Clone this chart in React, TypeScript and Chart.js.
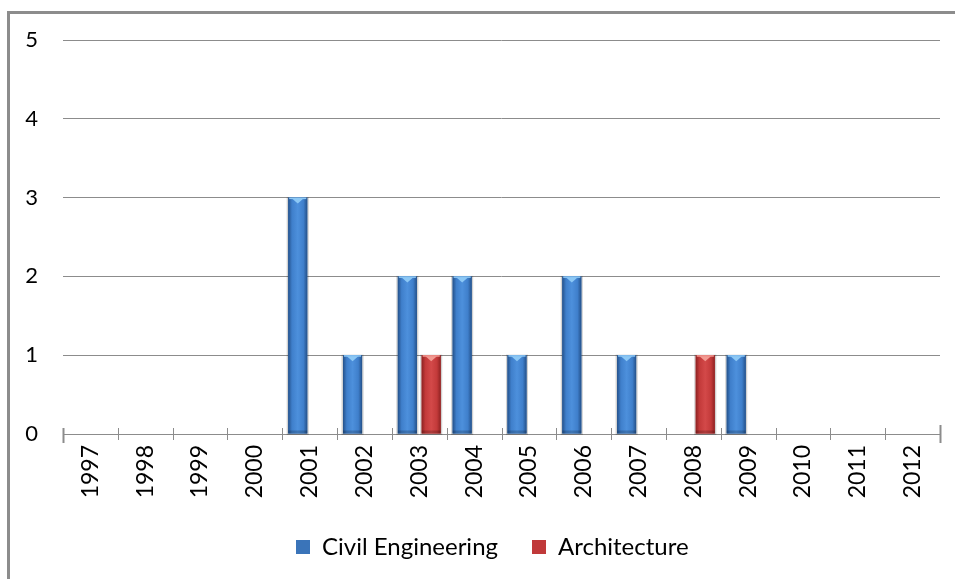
import React, { useEffect, useRef } from "react";
import { Chart, registerables } from "chart.js";

Chart.register(...registerables);

const years = ["1997","1998","1999","2000","2001","2002","2003","2004","2005","2006","2007","2008","2009","2010","2011","2012"];
const civilEngineering = [0,0,0,0,3,1,2,2,1,2,1,0,1,0,0,0];
const architecture = [0,0,0,0,0,0,1,0,0,0,0,1,0,0,0,0];
const yTicks = [0,1,2,3,4,5];

const FONT = "Lato, 'Open Sans', sans-serif";

const palettes = [
  { edge: "#24518a", mid: "#3f7fcb", light: "#4d90dc", hi: "#8cc8f5" },
  { edge: "#8e2222", mid: "#c33a3a", light: "#d34949", hi: "#f29a92" },
];

const LEGEND_START_X = 296;

const stylePlugin = {
  id: "excelStyle",
  afterLayout(chart: any) {
    const lg = chart.legend;
    if (!lg || !lg.lineWidths) return;
    const pad = lg.options.labels.padding;
    const start = (lg.left + pad + lg.right - lg.lineWidths[0]) / 2;
    const dx = LEGEND_START_X - start;
    lg.left += dx;
    lg.right += dx;
  },
  beforeDraw(chart: any) {
    const c = chart.ctx;
    c.save();
    c.fillStyle = "#ffffff";
    c.fillRect(0, 0, chart.width, chart.height);
    c.strokeStyle = "#8c8c8c";
    c.lineWidth = 3;
    c.beginPath();
    c.moveTo(8.5, chart.height + 2);
    c.lineTo(8.5, 12.5);
    c.lineTo(chart.width + 2, 12.5);
    c.stroke();
    c.restore();
  },
  beforeDatasetsDraw(chart: any) {
    const c = chart.ctx;
    c.save();
    chart.data.datasets.forEach((_: any, di: number) => {
      const meta = chart.getDatasetMeta(di);
      meta.data.forEach((el: any) => {
        const h = Math.abs(el.base - el.y);
        if (h < 1) return;
        const l = el.x - el.width / 2;
        c.fillStyle = "rgba(0,0,0,0.18)";
        c.fillRect(l - 1.5, el.y - 0.5, el.width + 3, h + 2);
      });
    });
    c.restore();
  },
  afterDatasetsDraw(chart: any) {
    const c = chart.ctx;
    c.save();
    chart.data.datasets.forEach((_: any, di: number) => {
      const meta = chart.getDatasetMeta(di);
      const p = palettes[di];
      meta.data.forEach((el: any) => {
        const h = Math.abs(el.base - el.y);
        if (h < 1) return;
        const l = el.x - el.width / 2;
        const w = el.width;
        const top = el.y;
        const g = c.createLinearGradient(l, 0, l + w, 0);
        g.addColorStop(0, p.edge);
        g.addColorStop(0.2, p.mid);
        g.addColorStop(0.5, p.light);
        g.addColorStop(0.8, p.mid);
        g.addColorStop(1, p.edge);
        c.fillStyle = g;
        c.fillRect(l, top, w, h);
        c.fillStyle = "rgba(0,0,0,0.18)";
        c.fillRect(l, el.base - 3, w, 3);
        c.fillStyle = p.hi;
        c.fillRect(l + 1, top, w - 2, 1.5);
        c.beginPath();
        c.moveTo(l + w * 0.2, top + 1);
        c.lineTo(l + w * 0.8, top + 1);
        c.lineTo(el.x, top + 6);
        c.closePath();
        c.fill();
      });
    });
    c.restore();
  },
  afterDraw(chart: any) {
    const c = chart.ctx;
    const xs = chart.scales.x;
    const area = chart.chartArea;
    const n = years.length;
    const step = (area.right - area.left) / n;
    c.save();
    c.strokeStyle = "#8c8c8c";
    for (let i = 0; i <= n; i++) {
      const x = Math.round(xs.left + i * step) + 0.5;
      c.lineWidth = i === 0 || i === n ? 2 : 1;
      c.beginPath();
      c.moveTo(x, area.bottom - (i === n ? 9 : 6));
      c.lineTo(x, area.bottom + (i === 0 ? 9 : i === n ? 9 : 6));
      c.stroke();
    }
    c.restore();
  },
};

export default function App() {
  const ref = useRef<HTMLCanvasElement>(null);
  useEffect(() => {
    if (!ref.current) return;
    const chart = new Chart(ref.current, {
      type: "bar",
      data: {
        labels: years,
        datasets: [
          { label: "Civil Engineering", data: civilEngineering, backgroundColor: "#3a74b9", borderWidth: 0 },
          { label: "Architecture", data: architecture, backgroundColor: "#c0393a", borderWidth: 0 },
        ],
      },
      options: {
        responsive: false,
        animation: false,
        devicePixelRatio: 1,
        datasets: { bar: { categoryPercentage: 0.87, barPercentage: 0.8 } },
        layout: { padding: { top: 40, right: 15, left: 0, bottom: 10 } },
        plugins: {
          tooltip: { enabled: false },
          legend: {
            position: "bottom",
            labels: {
              font: { family: FONT, size: 24 },
              color: "#000",
              boxWidth: 14,
              boxHeight: 14,
              padding: 34,
            },
          },
        },
        scales: {
          x: {
            offset: true,
            grid: { display: false, offset: true },
            border: { display: true, color: "#8c8c8c", width: 1 },
            ticks: {
              minRotation: 90,
              maxRotation: 90,
              padding: 3,
              color: "#000",
              font: { family: FONT, size: 23 },
            },
            afterFit(scale: any) { scale.height = 67; },
          },
          y: {
            min: 0,
            max: 5,
            afterBuildTicks(scale: any) { scale.ticks = yTicks.map((v) => ({ value: v })); },
            grid: { color: "#8c8c8c", drawTicks: false },
            border: { display: false },
            ticks: {
              padding: 25,
              color: "#000",
              font: { family: FONT, size: 22 },
            },
            afterFit(scale: any) { scale.width = 63; },
          },
        },
      },
      plugins: [stylePlugin],
    });
    return () => chart.destroy();
  }, []);
  return (
    <canvas
      ref={ref}
      width={955}
      height={579}
      style={{ position: "absolute", left: 0, top: 0, width: 955, height: 579 }}
    />
  );
}
